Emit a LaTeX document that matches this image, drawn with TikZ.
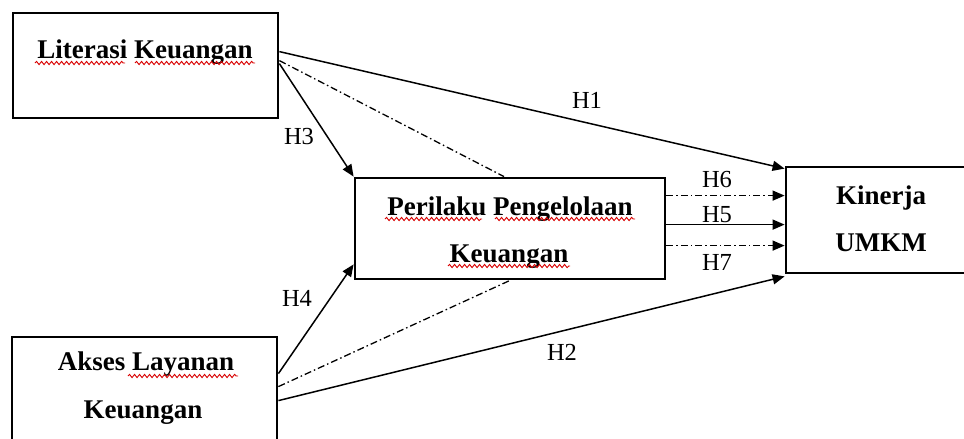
\documentclass[tikz,border=0pt]{standalone}
\usepackage{fontspec}
\setmainfont{Liberation Serif}
\usetikzlibrary{arrows.meta,decorations.pathmorphing}
\tikzset{
  box/.style={draw=black, line width=2.8pt, rectangle, inner sep=0pt},
  boxtext/.style={anchor=base, inner sep=0pt, font=\fontsize{27}{30}\selectfont\bfseries},
  hlabel/.style={inner sep=0pt, font=\fontsize{24.5}{28}\selectfont},
  tip/.style={-{Triangle[length=12pt,width=10pt]}},
  conn/.style={line width=1.5pt, tip},
  dd/.style={line width=1.3pt, dash pattern=on 7pt off 3pt on 1.5pt off 3pt},
  squig/.style={draw=red!85!black, line width=0.9pt, decorate,
    decoration={snake, amplitude=1.6pt, segment length=5pt}}
}
\begin{document}
\begin{tikzpicture}[x=1pt,y=-1pt]
\useasboundingbox (0,0) rectangle (964,439);
\clip (0,0) rectangle (964,439);
\fill[white] (0,0) rectangle (964,439);

% boxes
\node[box, minimum width=265pt, minimum height=105pt] (lit) at (145.5,65.5) {};
\node[box, minimum width=310pt, minimum height=101pt] (per) at (510,228.5) {};
\node[box, minimum width=224pt, minimum height=106pt] (kin) at (898,220) {};
\node[box, minimum width=265pt, minimum height=133pt] (aks) at (144.5,403.5) {};

% box texts
\node[boxtext] (litT) at (145,58) {Literasi Keuangan};
\node[boxtext] (perT1) at (510,215) {Perilaku Pengelolaan};
\node[boxtext] (perT2) at (509,262) {Keuangan};
\node[boxtext] (kinT1) at (881,204) {Kinerja};
\node[boxtext] (kinT2) at (881,251) {UMKM};
\node[boxtext] (aksT1) at (146,370) {Akses Layanan};
\node[boxtext] (aksT2) at (143,418) {Keuangan};

% spell-check squiggles
\draw[squig] (35,63) -- (125,63);
\draw[squig] (135,63) -- (255,63);
\draw[squig] (385,219) -- (482,219);
\draw[squig] (495,219) -- (635,219);
\draw[squig] (448,266) -- (570,266);
\draw[squig] (128,376) -- (238,376);

% connection points
\coordinate (litA) at ([yshift=-40pt]lit.north east);
\coordinate (litB) at ([yshift=-49pt]lit.north east);
\coordinate (litC) at ([yshift=-52pt]lit.north east);
\coordinate (aksA) at ([yshift=-38pt]aks.north east);
\coordinate (aksB) at ([yshift=-51pt]aks.north east);
\coordinate (aksC) at ([yshift=-65pt]aks.north east);

% connectors
\draw[conn] (litA) -- ([yshift=-3pt]kin.north west);
\draw[dd] (litB) -- ([xshift=-6pt]per.north);
\draw[conn] (litC) -- (per.north west);
\draw[conn] (aksA) -- ([yshift=16pt]per.south west);
\draw[dd] (aksB) -- (per.south);
\draw[conn] (aksC) -- ([yshift=-2pt]kin.south west);
\draw[dd, tip] ([yshift=-19pt]per.north east) -- ([yshift=-30pt]kin.north west);
\draw[conn] ([yshift=-48pt]per.north east) -- ([yshift=-59pt]kin.north west);
\draw[dd, tip] ([yshift=-69pt]per.north east) -- ([yshift=-80pt]kin.north west);

% labels
\node[hlabel] (h1) at (587,100) {H1};
\node[hlabel] (h2) at (562,352) {H2};
\node[hlabel] (h3) at (299,137) {H3};
\node[hlabel] (h4) at (297,298) {H4};
\node[hlabel] (h6) at (717,180) {H6};
\node[hlabel] (h5) at (717,215) {H5};
\node[hlabel] (h7) at (717,262) {H7};
\end{tikzpicture}
\end{document}
